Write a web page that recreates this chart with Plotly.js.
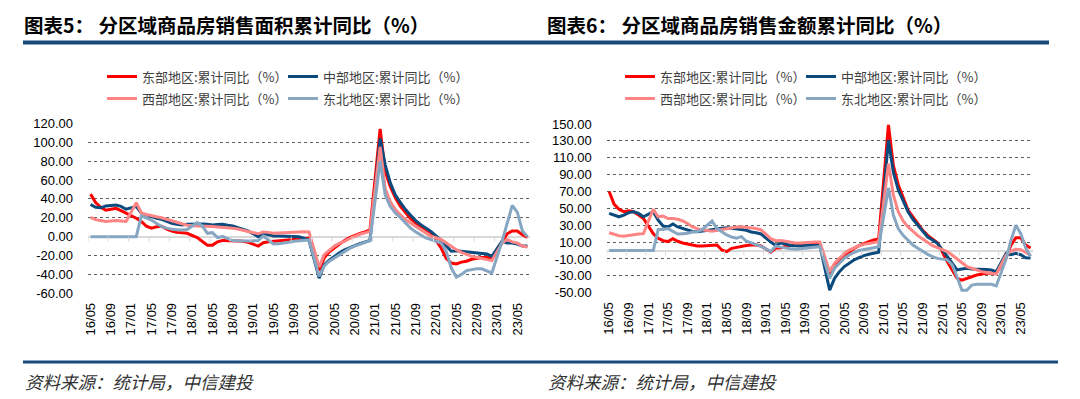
<!DOCTYPE html>
<html><head><meta charset="utf-8">
<script src="https://cdn.plot.ly/plotly-3.0.1.min.js"></script>
<style>html,body{margin:0;padding:0;background:#fff}#chart{width:1080px;height:399px}</style>
</head><body><div id="chart"></div><script>
const months = [
 "16/05","16/06","16/07","16/08","16/09","16/10","16/11","16/12",
 "17/01","17/02","17/03","17/04","17/05","17/06","17/07","17/08","17/09","17/10","17/11","17/12",
 "18/01","18/02","18/03","18/04","18/05","18/06","18/07","18/08","18/09","18/10","18/11","18/12",
 "19/01","19/02","19/03","19/04","19/05","19/06","19/07","19/08","19/09","19/10","19/11","19/12",
 "20/01","20/02","20/03","20/04","20/05","20/06","20/07","20/08","20/09","20/10","20/11","20/12",
 "21/01","21/02","21/03","21/04","21/05","21/06","21/07","21/08","21/09","21/10","21/11","21/12",
 "22/01","22/02","22/03","22/04","22/05","22/06","22/07","22/08","22/09","22/10","22/11","22/12",
 "23/01","23/02","23/03","23/04","23/05","23/06","23/07"];
const xTickLabels = ["16/05","16/09","17/01","17/05","17/09","18/01","18/05","18/09","19/01","19/05","19/09",
 "20/01","20/05","20/09","21/01","21/05","21/09","22/01","22/05","22/09","23/01","23/05"];

// 图表5：销售面积累计同比
const areaEast = [45,36,31,28,29,30,27.5,25,
 null,19.5,16,11,9,10.5,11,8,6,4.5,4,3.5,
 null,-1,-5,-9,-9,-5.5,-4,-4,-4,-4.5,-5,-6,
 null,-10,-6.5,-5.5,-5,-4.5,-4,-3.5,-3,-2.5,-2,-1.5,
 null,-36,-22.5,-16,-12,-8,-4,-1,1.4,3.5,5,7,
 null,114,69,53,41,32,25,19,14.5,11,7.5,4,
 null,-12,-23,-28,-29,-27,-26,-24,-23,-22,-22,-22.5,
 null,-5,3,6,6,2,-0.7];
const areaCentral = [34,31,30.5,32.5,33,33.5,32,29,
 null,32,24.7,23,21,19.5,18.4,16,14,13,12.4,13,
 null,13.5,13.4,13,12.4,12.8,13,12,11.3,9.5,7.8,6,
 null,0,3.5,2,0.7,0.7,0.7,0.5,0.3,0,-1.5,-4,
 null,-44,-30,-25,-21,-17,-14,-11.5,-9.5,-7.5,-6,-4,
 null,104,76,57,44,36,28.6,22.6,17,12.7,9,5.6,
 null,-4,-10,-15.5,-15,-15.5,-16,-16.6,-16.6,-17.3,-18.3,-20.8,
 null,-5,-6.7,-6.7,-7.8,-10,-10];
const areaWest = [20.5,18,17,16,16.5,17,16.5,16,
 null,36,25,23.5,22,21,20,18.5,17,15,13.4,12,
 null,11.3,11.3,11,10.6,10.3,10,9.5,8.8,8,7,5.5,
 null,3,5,4.5,3.5,3.8,4.2,4.6,5,5.3,5.2,5,
 null,-32,-19,-14,-10,-7,-5,-2,0.3,2.5,4,5.6,
 null,95,51,37,28.6,23,18,14.5,11,7.4,4,0.4,
 null,-3,-6.7,-10,-13.8,-16.6,-19,-20.8,-22,-23,-24,-25.4,
 null,-6.7,-3,-5.6,-6.7,-10,-11];
const areaNortheast = [0,0,0,0,0,0,0,0,
 null,0,22,20,17.6,14,10.6,9,7.8,7.4,7,7.5,
 null,14.8,11.3,3.5,4.2,-1,0,-2,-4.2,-4.4,-4.6,-4.6,
 null,-4.2,0.7,-3.5,-7.8,-7.5,-7,-6,-5,-4.6,-4,-3.5,
 null,-42,-31,-26,-22.6,-19,-15.5,-12.5,-10,-8,-6.7,-4.2,
 null,80,44,32,25,20,14.5,9,5,1.4,-1.4,-3,
 null,-6.7,-15.5,-33,-43,-40,-36,-35,-34,-34,-36,-38.4,
 null,-5,15,33,26,6,0];

// 图表6：销售金额累计同比
const salesEast = [70,55,49,46,47,46,42,38,
 null,20,14.5,11.7,10.6,14,11,9,7.8,6.5,5.5,5.4,
 null,6,6.6,0.7,-1.3,2.6,4,5.4,6,6.6,6.5,5.4,
 null,-2,3,3,5,6,6.5,7,7,7.5,8,8,
 null,-29,-19,-13,-7,-2.5,2.6,5.7,8.5,10.5,12.5,13.6,
 null,149,101,78,62,48,40,32,24,18,13.6,9.3,
 null,-13,-23,-33,-35,-33,-31,-29,-28,-27,-27,-27,
 null,-9,6.5,15,15,6.5,3];
const salesCentral = [44,42,40,42,45,46,44,40,
 null,46,36,29,28,31.5,28,26,24,22.5,22.4,23,
 null,24.5,25.5,26.5,27,26.5,26,25,24,22,21,19.6,
 null,10,6,9,8,6,5.5,5.5,6,6,6,6,
 null,-47,-33,-25,-19,-15,-11,-8.5,-6,-4.5,-3.4,-2,
 null,131,93,72,58,46,37,30,23,16,12.5,8.5,
 null,-7,-15,-23,-22,-21,-22,-22,-22.5,-22.5,-23,-25,
 null,-3.4,-5,-3.4,-5,-8.5,-9];
const salesWest = [21,19,17.5,17,18,19,19.6,20,
 null,49,40,41,38,38,37,35,32,28,26,24.5,
 null,23,24,25,26.5,27.5,28,28.3,27.5,27,26,24.4,
 null,14,11.7,12,11,10,9,9,9.5,9.5,10,10,
 null,-25,-15,-9,-3.4,0.6,3.4,5.7,7.3,8.5,9.3,10.5,
 null,103,66,46,35,28,22.3,17.6,13.6,9.7,5.7,3.4,
 null,-1.3,-5.3,-10,-15,-19,-21,-23,-25,-26,-27,-28,
 null,-5.3,-0.6,1.4,1,-2,-6];
const salesNortheast = [0,0,0,0,0,0,0,0,
 null,0,25,25,26,22.4,19.6,20,20.5,22,22.4,25,
 null,35,26,22.4,18.5,16,14.5,16.5,11,9,6.6,5,
 null,-1.3,5.4,4,2.6,2,1.5,2,2.6,3,3.8,4.5,
 null,-33,-21,-15,-9,-5.3,-2,0,1.4,2.6,3.4,4.5,
 null,74,42,26,18,12.5,6.5,2.6,-1.3,-4.5,-7.3,-9.3,
 null,-11,-17,-31,-47,-47,-41,-40,-40,-40,-40,-42,
 null,-10,12,30,20,3,-7];

const seriesNames = ["东部地区:累计同比（%）","中部地区:累计同比（%）","西部地区:累计同比（%）","东北地区:累计同比（%）"];
const seriesColors = ["#FF0000","#0B4A7D","#FF8585","#86A6C2"];
const yTicksLeft = [120,100,80,60,40,20,0,-20,-40,-60];
const yTicksRight = [150,130,110,90,70,50,30,10,-10,-30,-50];
const chartTitles = ["图表5： 分区域商品房销售面积累计同比（%）","图表6： 分区域商品房销售金额累计同比（%）"];
const sourceText = "资料来源：统计局，中信建投";

const W = 1080, H = 399;
const px = v => v / W, py = v => 1 - v / H;
const FONT = "Noto Sans CJK SC, Liberation Sans, sans-serif";
const NUMFONT = "Liberation Sans, Arial, sans-serif";

const leftSeries = [areaEast, areaCentral, areaWest, areaNortheast];
const rightSeries = [salesEast, salesCentral, salesWest, salesNortheast];
const legendIds = [["legend","legend","legend2","legend2"],["legend3","legend3","legend4","legend4"]];

const data = [];
leftSeries.forEach((ys, k) => data.push({
  type: "scatter", mode: "lines", x: months, y: ys, name: seriesNames[k],
  line: {color: seriesColors[k], width: 3}, connectgaps: true,
  xaxis: "x", yaxis: "y", legend: legendIds[0][k]
}));
rightSeries.forEach((ys, k) => data.push({
  type: "scatter", mode: "lines", x: months, y: ys, name: seriesNames[k],
  line: {color: seriesColors[k], width: 3}, connectgaps: true,
  xaxis: "x2", yaxis: "y2", legend: legendIds[1][k]
}));

function xAxis(domain, anchor) {
  return {
    domain: domain, anchor: anchor, type: "category", categoryarray: months, categoryorder: "array",
    range: [-0.5, months.length - 0.5], tickmode: "array", tickvals: xTickLabels, ticktext: xTickLabels,
    tickangle: -90, tickfont: {family: NUMFONT, size: 13, color: "#000"}, ticklabelstandoff: 6,
    showgrid: false, zeroline: false, showline: false, ticks: "", fixedrange: true
  };
}
function yAxis(domain, anchor, ticks) {
  return {
    domain: domain, anchor: anchor, range: [ticks[ticks.length - 1], ticks[0]],
    tickmode: "array", tickvals: ticks, ticktext: ticks.map(v => v.toFixed(2)),
    tickfont: {family: NUMFONT, size: 13, color: "#000"}, ticklabelstandoff: 14,
    showgrid: true, gridcolor: "#5e5e5e", gridwidth: 1, griddash: "dot",
    zeroline: true, zerolinecolor: "#D9D9D9", zerolinewidth: 2,
    showline: false, ticks: "", fixedrange: true
  };
}
function legend(x, y) {
  return {orientation: "h", x: px(x), y: py(y), xanchor: "left", yanchor: "middle",
    bgcolor: "rgba(0,0,0,0)", font: {family: FONT, size: 13, color: "#404040"},
    itemwidth: 30, entrywidth: 136, tracegroupgap: 0, itemclick: false, itemdoubleclick: false};
}

const shapes = [
  {type: "line", xref: "paper", yref: "paper", x0: px(23), x1: px(1049), y0: py(42.5), y1: py(42.5), line: {color: "#174A7C", width: 4}},
  {type: "line", xref: "paper", yref: "paper", x0: px(23), x1: px(1058), y0: py(362), y1: py(362), line: {color: "#174A7C", width: 3}}
];
[["x","y"],["x2","y2"]].forEach(([xr, yr]) => {
  xTickLabels.forEach(lbl => {
    const pos = months.indexOf(lbl) - 0.5;
    shapes.push({type: "line", xref: xr, yref: yr, x0: pos, x1: pos, ysizemode: "pixel", yanchor: 0, y0: 0, y1: -5,
      line: {color: "#D9D9D9", width: 1}});
  });
});

const annotations = [
  {text: "<b>" + chartTitles[0] + "</b>", x: px(22), y: py(25), xref: "paper", yref: "paper", xanchor: "left", yanchor: "middle", showarrow: false, font: {family: FONT, size: 19.5, color: "#000"}},
  {text: "<b>" + chartTitles[1] + "</b>", x: px(545), y: py(25), xref: "paper", yref: "paper", xanchor: "left", yanchor: "middle", showarrow: false, font: {family: FONT, size: 19.5, color: "#000"}},
  {text: "<i>" + sourceText + "</i>", x: px(23), y: py(381), xref: "paper", yref: "paper", xanchor: "left", yanchor: "middle", showarrow: false, font: {family: FONT, size: 17.5, color: "#333"}},
  {text: "<i>" + sourceText + "</i>", x: px(546), y: py(381), xref: "paper", yref: "paper", xanchor: "left", yanchor: "middle", showarrow: false, font: {family: FONT, size: 17.5, color: "#333"}}
];

const layout = {
  width: W, height: H, margin: {l: 0, r: 0, t: 0, b: 0}, paper_bgcolor: "#fff", plot_bgcolor: "#fff",
  showlegend: true,
  xaxis: xAxis([px(88), px(530)], "y"),
  yaxis: yAxis([py(293.3), py(123.3)], "x", yTicksLeft),
  xaxis2: xAxis([px(606.7), px(1033)], "y2"),
  yaxis2: yAxis([py(292.7), py(124)], "x2", yTicksRight),
  legend: legend(102, 76.5),
  legend2: legend(102, 98.5),
  legend3: legend(620, 76.5),
  legend4: legend(620, 98.5),
  shapes: shapes, annotations: annotations
};

Plotly.newPlot("chart", data, layout, {displayModeBar: false, staticPlot: true});
</script></body></html>
